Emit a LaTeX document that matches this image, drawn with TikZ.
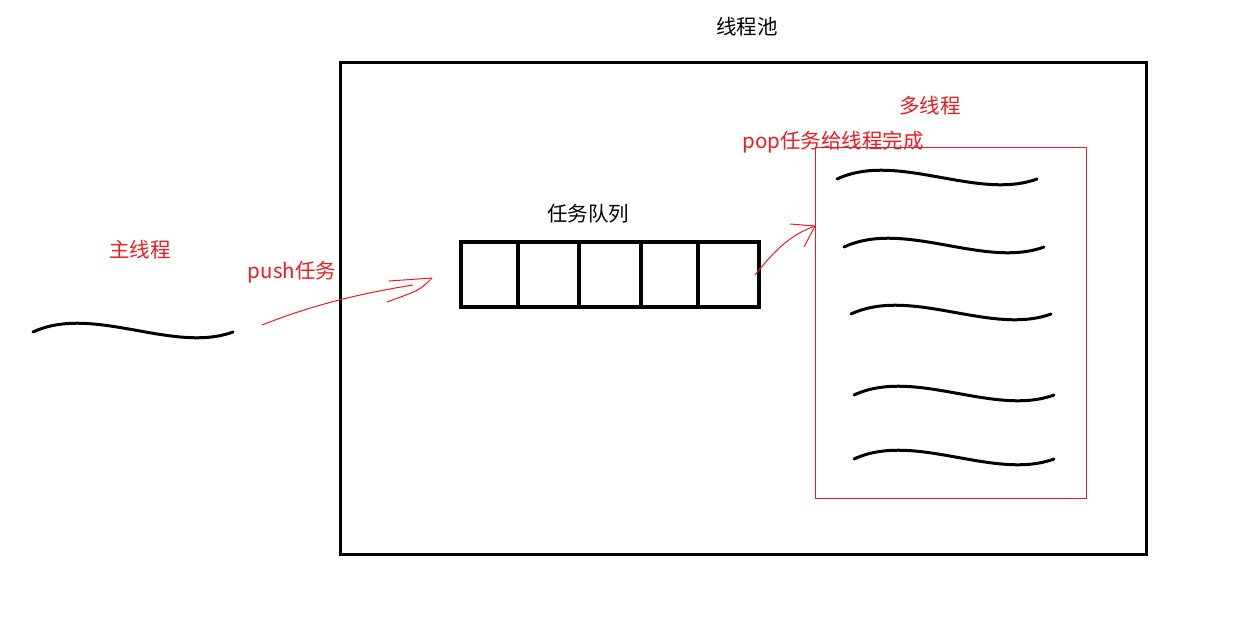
\documentclass[tikz,border=0pt]{standalone}
\usepackage{fontspec}
\setmainfont{Noto Sans CJK SC}
\usetikzlibrary{calc}
\definecolor{pred}{RGB}{237,28,36}
\tikzset{
  lbl/.style={inner sep=0pt, font=\fontsize{20.5}{24}\selectfont},
  redlbl/.style={lbl, text=pred},
  thick3/.style={line width=3pt, draw=black},
  wavestyle/.style={line width=3pt, line cap=round},
  redline/.style={draw=pred, line width=1pt},
  wave/.pic={\draw[wavestyle] (0,0) .. controls (60,-28) and (140,22) .. (200,0);}
}
\begin{document}
\begin{tikzpicture}[x=1pt,y=-1pt]
\useasboundingbox[fill=white] (0,0) rectangle (1258,621);

% pool
\node[thick3, draw, minimum width=806pt, minimum height=492pt, inner sep=0pt] (pool) at (743,308) {};
\node[lbl] (pooltitle) at (747,27) {线程池};

% workers box
\node[redline, draw, minimum width=271pt, minimum height=351pt, inner sep=0pt] (workers) at (950.5,322.5) {};
\node[redlbl] (multi) at (930,106) {多线程};
\node[redlbl] (poplbl) at (833,142) {pop任务给线程完成};

% queue
\node[line width=3.5pt, draw, minimum width=298pt, minimum height=65pt, inner sep=0pt] (queue) at (610,274.5) {};
\foreach \xx in {518,579,641,698}
  \draw[line width=3.5pt] (\xx,242) -- (\xx,307);
\node[lbl] (qlabel) at (588,214) {任务队列};

% main thread
\node[redlbl] (mainlbl) at (140,250) {主线程};
\pic (mainwave) at (33,332) {wave};
\node[redlbl] (pushlbl) at (292,272) {push任务};

% worker threads
\pic (w1) at (837,179) {wave};
\pic (w2) at (844,247) {wave};
\pic (w3) at (851,314) {wave};
\pic (w4) at (854,395) {wave};
\pic (w5) at (854,459) {wave};

% push arrow
\coordinate (pushstart) at (262,325);
\coordinate (pushtip) at (432,278);
\draw[redline] (pushstart) .. controls (320,302) and (370,292) .. ($(pushtip)+(-19,7)$);
\draw[redline] ($(pushtip)+(-43,3)$) -- (pushtip);
\draw[redline] (pushtip) .. controls ($(pushtip)+(-12,12)$) .. ($(pushtip)+(-45,24)$);

% pop arrow
\coordinate (popstart) at (755,275);
\coordinate (poptip) at (815,226);
\draw[redline] (popstart) .. controls (775,250) and (790,235) .. (poptip);
\draw[redline] ($(poptip)+(-25,-2)$) -- (poptip);
\draw[redline] (poptip) -- ($(poptip)+(-11,21)$);
\end{tikzpicture}
\end{document}
